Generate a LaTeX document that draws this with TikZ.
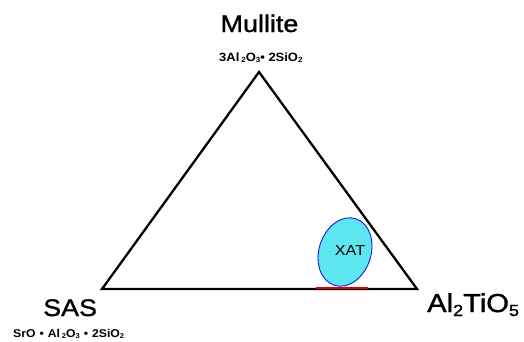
\documentclass[tikz,border=0pt]{standalone}
\usepackage{fontspec}
\setmainfont{Liberation Sans}[FakeStretch=1.12]
\newfontfamily\heavy{Liberation Sans}[FakeStretch=1.12, FakeBold=1.2]
\newfontfamily\smallbold{Liberation Sans Bold}[FakeStretch=1.08]
\usetikzlibrary{shapes.geometric}
\newcommand\mysub[2][-0.3ex]{\raisebox{#1}{\scalebox{0.62}{#2}}}
\newcommand\dotsep{\hspace{4pt}\textbullet\hspace{4pt}}
\definecolor{xatfill}{HTML}{5CE6F0}
\definecolor{xatline}{HTML}{1A1AE0}
\definecolor{redseg}{HTML}{E00000}
\tikzset{
  side/.style={line width=2.3pt, line join=miter, black},
  big/.style={font=\heavy\fontsize{24}{24}\selectfont, inner sep=0pt},
  small/.style={font=\smallbold\fontsize{12}{12}\selectfont, inner sep=0pt},
  xatshape/.style={ellipse, draw=xatline, fill=xatfill, line width=0.9pt, inner sep=0pt, minimum width=52pt, minimum height=70pt},
}
\begin{document}
\begin{tikzpicture}[x=1pt, y=-1pt]
\useasboundingbox (0,0) rectangle (524,341);
\coordinate (top) at (259,72);
\coordinate (left) at (102,289);
\coordinate (right) at (417,289);
\draw[side] (top) -- (left) -- (right) -- cycle;
\node[xatshape, rotate=-18] (xat) at (345,252) {};
\node[font=\fontsize{14.5}{14.5}\selectfont, inner sep=0pt] (xatlabel) at (350,251) {XAT};
\coordinate (ra) at (316,288);
\coordinate (rb) at (368,288);
\draw[redseg, line width=1.6pt] (ra) -- (rb);
\node[big, anchor=base] (mullite) at (259.5,32) {Mullite};
\node[small, anchor=base west] (mform) at (219,61) {3Al\,\mysub{2}O\mysub{3}\textbullet\ 2SiO\mysub{2}};
\node[font=\smallbold\fontsize{11.3}{11.3}\selectfont, inner sep=0pt, anchor=base west] (sform) at (13,337) {SrO\dotsep Al\,\mysub{2}O\mysub{3}\dotsep 2SiO\mysub{2}};
\node[big, anchor=base west] (sas) at (43,316) {SAS};
\node[font=\heavy\fontsize{26}{26}\selectfont, inner sep=0pt, anchor=base west] (alti) at (427,312) {Al\mysub[-4pt]{2}TiO\mysub[-4pt]{5}};
\end{tikzpicture}
\end{document}
